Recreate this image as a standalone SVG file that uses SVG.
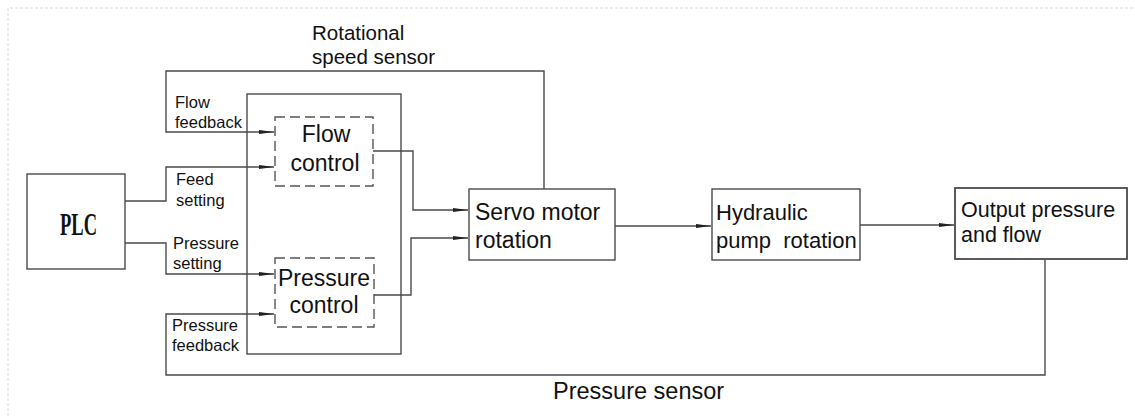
<svg xmlns="http://www.w3.org/2000/svg" width="1135" height="416" viewBox="0 0 1135 416">
<style>
.bg{fill:#fff}
.frame{stroke:#d8d8d8;stroke-width:1;stroke-dasharray:3 2;fill:none}
.box{fill:#fff;stroke:#4a4a4a;stroke-width:1.4}
.dbox{fill:#fff;stroke:#555;stroke-width:1.4;stroke-dasharray:10 5}
.ln{fill:none;stroke:#4a4a4a;stroke-width:1.4}
.arr{marker-end:url(#ah)}
text{font-family:"Liberation Sans",Arial,sans-serif;fill:#111}
.s{font-size:16.5px}
.m{font-size:23px}
.h{font-size:22px}
.o{font-size:21.5px}
.t{font-size:20.5px}
.plc{font-family:"Liberation Serif","Times New Roman",serif;font-size:32px;font-weight:bold}
</style>
<defs>
<marker id="ah" markerUnits="userSpaceOnUse" markerWidth="16" markerHeight="6" refX="15" refY="2.5" orient="auto">
<path d="M0,0.6 L15,2.5 L0,4.4 z" fill="#222"/>
</marker>
</defs>
<rect class="bg" x="0" y="0" width="1135" height="416"/>
<path class="frame" d="M8,416 V8 H1135"/>

<g id="connectors">
<path class="ln arr" d="M125,201 H166 V167 H274"/>
<path class="ln arr" d="M125,243 H166 V274 H274"/>
<path class="ln arr" d="M544,189 V71 H166 V132 H274"/>
<path class="ln arr" d="M373,151 H413 V210 H468"/>
<path class="ln arr" d="M374,295 H411 V238 H468"/>
<path class="ln arr" d="M615,226 H711"/>
<path class="ln arr" d="M860,225 H954"/>
<path class="ln arr" d="M1045,259 V375 H166 V314 H274"/>
</g>

<g id="controller">
<rect class="ln" x="247" y="94" width="154" height="260"/>
</g>

<g id="plc">
<rect class="box" x="27" y="174" width="98" height="95"/>
<text class="plc" x="60" y="235" textLength="37" lengthAdjust="spacingAndGlyphs">PLC</text>
</g>

<g id="flow-control">
<rect class="dbox" x="275" y="117" width="98" height="69"/>
<text class="m" x="326" y="142" text-anchor="middle">Flow</text>
<text class="m" x="325" y="171" text-anchor="middle">control</text>
</g>

<g id="pressure-control">
<rect class="dbox" x="275" y="258" width="99" height="69"/>
<text class="m" x="324" y="286" text-anchor="middle">Pressure</text>
<text class="m" x="324" y="313" text-anchor="middle">control</text>
</g>

<g id="servo">
<rect class="box" x="469" y="189" width="146" height="71"/>
<text class="m" x="475" y="220">Servo motor</text>
<text class="m" x="475" y="248">rotation</text>
</g>

<g id="pump">
<rect class="box" x="712" y="189" width="148" height="71"/>
<text class="h" x="716" y="220">Hydraulic</text>
<text class="h" x="716" y="248" xml:space="preserve">pump  rotation</text>
</g>

<g id="output">
<rect class="box" x="955" y="188" width="172" height="71" style="stroke-width:1.8"/>
<text class="o" x="961" y="217">Output pressure</text>
<text class="o" x="961" y="242">and flow</text>
</g>

<g id="labels">
<text class="t" x="312" y="40">Rotational</text>
<text class="t" x="312" y="64">speed sensor</text>
<text class="s" x="175" y="108">Flow</text>
<text class="s" x="175" y="128">feedback</text>
<text class="s" x="176" y="185">Feed</text>
<text class="s" x="176" y="206">setting</text>
<text class="s" x="173" y="249">Pressure</text>
<text class="s" x="173" y="269">setting</text>
<text class="s" x="172" y="331">Pressure</text>
<text class="s" x="172" y="351">feedback</text>
<text class="m" x="553" y="399" style="font-size:23.5px">Pressure sensor</text>
</g>
</svg>
